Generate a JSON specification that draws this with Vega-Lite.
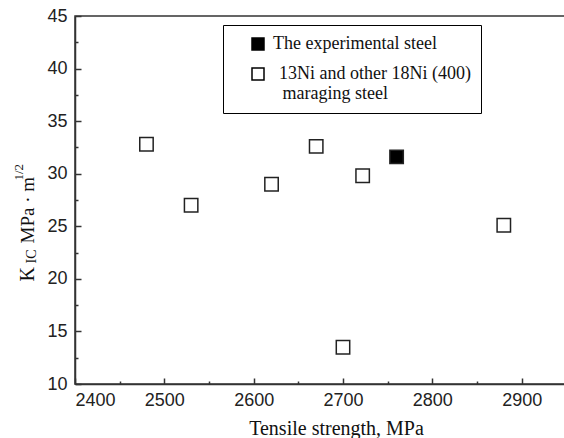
{
  "$schema": "https://vega.github.io/schema/vega-lite/v6.json",
  "autosize": {"type": "none"},
  "padding": {"left": 75, "top": 16, "right": 0, "bottom": 54},
  "width": 536,
  "height": 368,
  "background": "white",
  "config": {
    "view": {"stroke": "#333", "strokeWidth": 1.5},
    "axis": {"grid": false, "domainColor": "#333", "domainWidth": 1.5, "tickColor": "#333", "tickWidth": 1.5,
             "labelFont": "Liberation Sans", "labelFontSize": 18, "labelColor": "#222",
             "titleFont": "Liberation Serif", "titleFontWeight": "normal", "titleColor": "#111"},
    "legend": {"labelFont": "Liberation Serif", "labelFontSize": 18, "labelColor": "#111"}
  },
  "data": {"values": [
    {"strength": 2760, "kic": 31.6, "group": "The experimental steel"},
    {"strength": 2480, "kic": 32.8, "group": "13Ni and other 18Ni (400) maraging steel"},
    {"strength": 2530, "kic": 27.0, "group": "13Ni and other 18Ni (400) maraging steel"},
    {"strength": 2620, "kic": 29.0, "group": "13Ni and other 18Ni (400) maraging steel"},
    {"strength": 2670, "kic": 32.6, "group": "13Ni and other 18Ni (400) maraging steel"},
    {"strength": 2722, "kic": 29.8, "group": "13Ni and other 18Ni (400) maraging steel"},
    {"strength": 2700, "kic": 13.5, "group": "13Ni and other 18Ni (400) maraging steel"},
    {"strength": 2880, "kic": 25.1, "group": "13Ni and other 18Ni (400) maraging steel"}
  ]},
  "resolve": {"axis": {"x": "independent", "y": "independent"}},
  "layer": [
    {
      "mark": {"type": "point", "shape": "square", "filled": true, "size": 180, "stroke": "#222", "strokeWidth": 1.5, "opacity": 1},
      "encoding": {
        "x": {"field": "strength", "type": "quantitative", "scale": {"domain": [2400, 3000], "nice": false, "zero": false},
              "axis": {"orient": "bottom", "values": [2400, 2500, 2600, 2700, 2800, 2900], "format": "d", "tickSize": -6, "labelPadding": 13,
                       "title": "Tensile strength, MPa", "titleFontSize": 20, "titleX": 261, "titleY": 50, "titleBaseline": "alphabetic", "titleAlign": "center"}},
        "y": {"field": "kic", "type": "quantitative", "scale": {"domain": [10, 45], "nice": false, "zero": false},
              "axis": {"orient": "left", "values": [10, 15, 20, 25, 30, 35, 40, 45], "tickSize": -6, "labelPadding": 14,
                       "title": "K", "titleFontSize": 20, "titleAngle": -90, "titleX": -42, "titleY": 265, "titleAlign": "left", "titleBaseline": "alphabetic"}},
        "fill": {"field": "group", "type": "nominal",
                 "scale": {"domain": ["The experimental steel", "13Ni and other 18Ni (400) maraging steel"], "range": ["#000000", "#ffffff"]},
                 "legend": {"title": null, "orient": "none", "legendX": 148, "legendY": 9, "strokeColor": "#000",
                            "fillColor": "#ffffff", "padding": 10, "symbolType": "square", "symbolSize": 144, "symbolStrokeColor": "#000",
                            "symbolStrokeWidth": 1.5, "symbolOffset": 16, "labelOffset": 6, "labelLimit": 0, "rowPadding": 12,
                            "labelExpr": "datum.label == '13Ni and other 18Ni (400) maraging steel' ? ['\u200b\u200413Ni and other 18Ni (400)', '\u200b\u2004\u2009maraging steel'] : datum.label"}}
      }
    },
    {
      "mark": {"type": "point", "opacity": 0},
      "encoding": {
        "x": {"field": "strength", "type": "quantitative", "scale": {"domain": [2400, 3000], "nice": false, "zero": false},
              "axis": {"orient": "bottom", "values": [2450, 2550, 2650, 2750, 2850, 2950], "tickSize": -3, "labels": false, "domain": false, "title": null}},
        "y": {"field": "kic", "type": "quantitative", "scale": {"domain": [10, 45], "nice": false, "zero": false},
              "axis": {"orient": "left", "values": [12.5, 17.5, 22.5, 27.5, 32.5, 37.5, 42.5], "tickSize": -3, "labels": false, "domain": false,
                       "title": "IC", "titleFontSize": 14, "titleAngle": -90, "titleX": -40, "titleY": 247, "titleAlign": "left", "titleBaseline": "alphabetic"}}
      }
    },
    {
      "mark": {"type": "point", "opacity": 0},
      "encoding": {
        "x": {"field": "strength", "type": "quantitative", "scale": {"domain": [2400, 3000], "nice": false, "zero": false}, "axis": null},
        "y": {"field": "kic", "type": "quantitative", "scale": {"domain": [10, 45], "nice": false, "zero": false},
              "axis": {"orient": "left", "ticks": false, "labels": false, "domain": false,
                       "title": "MPa · m", "titleFontSize": 19, "titleAngle": -90, "titleX": -42, "titleY": 227, "titleAlign": "left", "titleBaseline": "alphabetic"}}
      }
    },
    {
      "mark": {"type": "point", "opacity": 0},
      "encoding": {
        "x": {"field": "strength", "type": "quantitative", "scale": {"domain": [2400, 3000], "nice": false, "zero": false}, "axis": null},
        "y": {"field": "kic", "type": "quantitative", "scale": {"domain": [10, 45], "nice": false, "zero": false},
              "axis": {"orient": "left", "ticks": false, "labels": false, "domain": false,
                       "title": "1/2", "titleFontSize": 13, "titleAngle": -90, "titleX": -53, "titleY": 164, "titleAlign": "left", "titleBaseline": "alphabetic"}}
      }
    }
  ]
}
